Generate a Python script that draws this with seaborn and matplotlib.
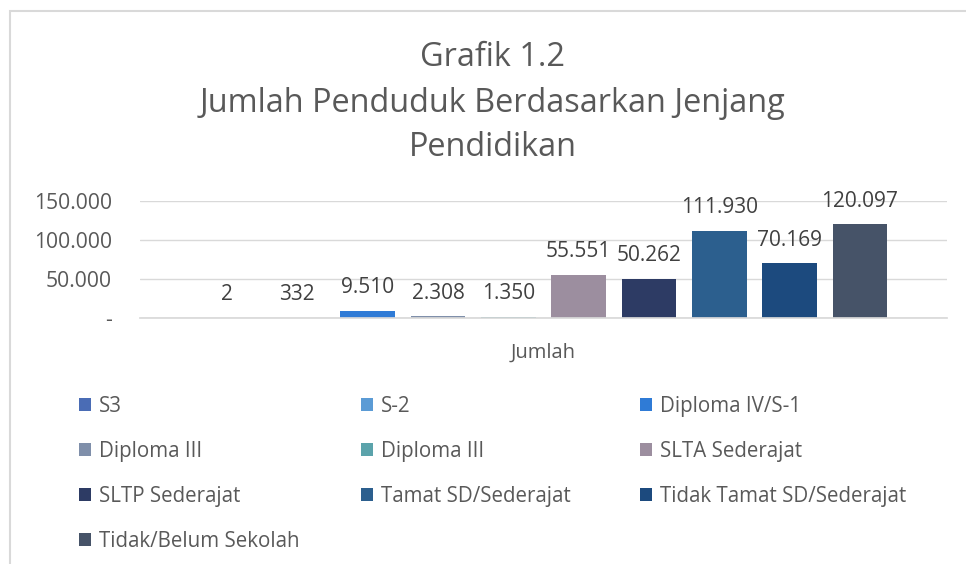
import matplotlib
matplotlib.use("Agg")
import matplotlib.pyplot as plt
import seaborn as sns
import pandas as pd
from matplotlib.patches import Patch, Rectangle

# ---- data ----
kategori = ["Jumlah"]
pendidikan = ["S3", "S-2", "Diploma IV/S-1", "Diploma III", "Diploma III",
              "SLTA Sederajat", "SLTP Sederajat", "Tamat SD/Sederajat",
              "Tidak Tamat SD/Sederajat", "Tidak/Belum Sekolah"]
jumlah = [2, 332, 9510, 2308, 1350, 55551, 50262, 111930, 70169, 120097]
warna = ["#4A6CB5", "#5B9BD5", "#2F7BD6", "#7F8FAA", "#5BA3AB",
         "#9C8E9F", "#2D3B64", "#2C5F8E", "#1C4A7E", "#465368"]
yticks = [0, 50000, 100000, 150000]
ytick_labels = ["-", "50.000", "100.000", "150.000"]
judul = ["Grafik 1.2", "Jumlah Penduduk Berdasarkan Jenjang", "Pendidikan"]

ids = [str(i) for i in range(len(pendidikan))]
df = pd.DataFrame({"kategori": kategori * len(pendidikan), "id": ids, "jumlah": jumlah})

sns.set_theme(style="white")
plt.rcParams["font.family"] = ["Open Sans", "DejaVu Sans"]

W, H = 966, 564
fig = plt.figure(figsize=(W / 100, H / 100), dpi=100)
ax = fig.add_axes([140 / W, 1 - 318 / H, (947 - 140) / W, (318 - 201) / H])

sns.barplot(data=df, x="kategori", y="jumlah", hue="id", hue_order=ids,
            palette=dict(zip(ids, warna)), saturation=1, width=0.8, gap=0.22,
            linewidth=0, legend=False, ax=ax)

ax.set_ylim(0, 150000)
ax.set_xlim(-0.459, 0.459)
ax.set_yticks(yticks)
ax.set_yticklabels(ytick_labels)
ax.set_xlabel("")
ax.set_ylabel("")
ax.grid(axis="y", color="#D9D9D9", lw=1)
ax.set_axisbelow(True)
for s in ["top", "right", "left"]:
    ax.spines[s].set_visible(False)
ax.spines["bottom"].set_color("#D9D9D9")
ax.tick_params(axis="y", length=0, pad=20, labelsize=15.2, labelcolor="#595959")
ax.tick_params(axis="x", length=0, pad=18, labelsize=14.5, labelcolor="#595959")

for cont, v in zip(ax.containers, jumlah):
    ax.bar_label(cont, labels=[f"{v:,}".replace(",", ".")], padding=9,
                 fontsize=15, color="#404040")

# title
for txt, y in zip(judul, [57, 103, 148]):
    fig.text(492.5 / W, 1 - y / H, txt, ha="center", va="center",
             fontsize=23.4, color="#595959")

# legend in three columns
handles = [Patch(facecolor=c, edgecolor="none") for c in warna]
col_x = [79, 361, 640]
for ci, x in enumerate(col_x):
    idx = list(range(ci, len(pendidikan), 3))
    fig.legend([handles[i] for i in idx], [pendidikan[i] for i in idx],
               loc="upper left", bbox_to_anchor=(x / W, 1 - 396 / H),
               frameon=False, fontsize=14.8, labelcolor="#595959",
               handlelength=0.6, handleheight=0.6, handletextpad=0.35,
               labelspacing=1.17, borderpad=0, borderaxespad=0)

# chart border
fig.patches.append(Rectangle((10 / W, -0.1), 1.2, 1.1 - 11 / H,
                             transform=fig.transFigure, fill=False,
                             edgecolor="#D9D9D9", lw=1.5, zorder=0))

fig.savefig("out.png", dpi=100, facecolor="white")
